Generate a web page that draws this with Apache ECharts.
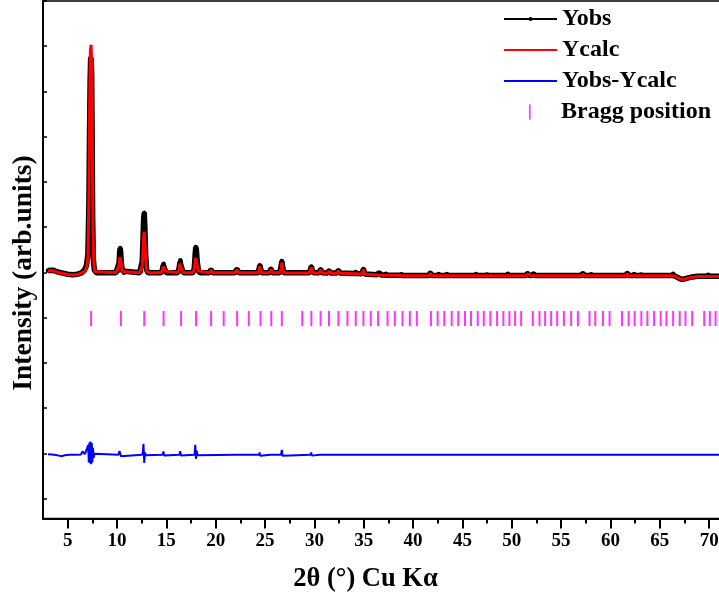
<!DOCTYPE html>
<html>
<head>
<meta charset="utf-8">
<script src="https://cdn.jsdelivr.net/npm/echarts@6/dist/echarts.min.js"></script>
<style>html,body{margin:0;padding:0;background:#fff}#c{width:719px;height:598px}</style>
</head>
<body>
<div id="c"></div>
<script>
// ---- data ----
const xMajorTicks = [5,10,15,20,25,30,35,40,45,50,55,60,65,70];
const xMinorTicks = [7.5,12.5,17.5,22.5,27.5,32.5,37.5,42.5,47.5,52.5,57.5,62.5,67.5];
const yTicks = [0,1000,2000,3000,4000,5000,6000,7000,8000,9000,10000,11000];

const yobs = [
[3.0,5040],[3.5,5050],[4.0,5010],[4.5,4985],[5.0,4960],[5.5,4950],[6.0,4960],[6.4,4990],[6.7,5050],[6.9,5150],
[7.05,5400],[7.15,6500],[7.22,8200],[7.28,9300],[7.33,9750],[7.38,9700],[7.43,9400],[7.48,8000],[7.53,6200],[7.6,5300],[7.7,5050],[7.9,4995],
[9.9,4995],[10.1,5030],[10.2,5200],[10.27,5450],[10.32,5540],[10.37,5450],[10.44,5200],[10.55,5030],[10.7,4995],
[12.3,4995],[12.45,5030],[12.56,5250],[12.64,5800],[12.7,6200],[12.76,6320],[12.82,6000],[12.9,5400],[13.0,5060],[13.15,4995],
[14.45,4995],[14.6,5060],[14.68,5160],[14.72,5190],[14.78,5150],[14.88,5050],[15.0,4995],
[16.15,4995],[16.3,5100],[16.37,5230],[16.42,5270],[16.48,5220],[16.6,5070],[16.75,4995],
[17.7,4995],[17.83,5100],[17.92,5400],[17.98,5560],[18.04,5500],[18.12,5250],[18.25,5040],[18.4,4995],
[19.35,4995],[19.53,5060],[19.7,4995],
[21.95,4995],[22.15,5070],[22.35,4995],
[24.3,4995],[24.4,5080],[24.47,5160],[24.55,5080],[24.65,4995],
[25.45,4995],[25.6,5080],[25.75,4995],
[26.5,4995],[26.6,5100],[26.7,5250],[26.8,5100],[26.9,4995],
[29.5,4992],[29.6,5070],[29.69,5130],[29.78,5060],[29.9,4992],
[30.48,4990],[30.63,5070],[30.78,4990],
[31.33,4988],[31.48,5040],[31.63,4988],
[32.28,4985],[32.43,5050],[32.58,4985],
[34.05,4978],[34.19,5010],[34.33,4975],
[34.82,4970],[34.97,5075],[35.12,4965],
[36.35,4950],[36.55,4995],[36.75,4945],
[37.1,4942],[37.24,4968],[37.38,4940],
[38.68,4935],[38.83,4960],[38.98,4932],
[41.6,4930],[41.74,4990],[41.88,4930],
[42.45,4930],[42.6,4965],[42.75,4930],
[43.28,4930],[43.43,4965],[43.58,4930],
[46.22,4930],[46.37,4965],[46.52,4930],
[47.35,4930],[47.5,4955],[47.65,4930],
[49.45,4930],[49.6,4970],[49.75,4930],
[51.45,4930],[51.6,4980],[51.75,4935],
[52.05,4930],[52.2,4975],[52.35,4930],
[57.05,4930],[57.2,4980],[57.35,4930],
[57.9,4930],[58.05,4960],[58.2,4930],
[61.55,4930],[61.7,4985],[61.85,4930],
[62.25,4930],[62.4,4965],[62.55,4930],
[62.95,4930],[63.1,4955],[63.25,4930],
[66.2,4930],[66.35,4970],[66.5,4925],
[66.8,4890],[67.1,4855],[67.4,4850],[67.8,4875],[68.3,4900],[68.8,4915],
[69.75,4915],[69.9,4950],[70.05,4915],[71.2,4915]
];

const ycalc = [
[3.0,5030],[3.5,5040],[4.0,5000],[4.5,4978],[5.0,4955],[5.5,4945],[6.0,4955],[6.4,4985],[6.7,5020],[6.9,5100],
[7.05,5300],[7.15,6600],[7.22,8600],[7.3,9900],[7.37,10030],[7.44,9600],[7.5,7800],[7.56,6000],[7.65,5200],[7.75,5020],[7.9,4990],
[9.9,4990],[10.1,5020],[10.2,5150],[10.27,5290],[10.32,5340],[10.37,5290],[10.44,5150],[10.55,5020],[10.7,4990],
[12.3,4990],[12.45,5020],[12.56,5150],[12.64,5550],[12.7,5820],[12.76,5900],[12.82,5700],[12.9,5300],[13.0,5040],[13.15,4990],
[14.45,4990],[14.6,5040],[14.68,5130],[14.72,5150],[14.78,5120],[14.88,5030],[15.0,4990],
[16.15,4990],[16.3,5080],[16.37,5190],[16.42,5220],[16.48,5180],[16.6,5050],[16.75,4990],
[17.7,4990],[17.83,5080],[17.92,5260],[17.98,5320],[18.04,5290],[18.12,5150],[18.25,5030],[18.4,4990],
[19.35,4990],[19.53,5050],[19.7,4990],
[21.95,4990],[22.15,5060],[22.35,4990],
[24.3,4990],[24.4,5070],[24.47,5140],[24.55,5070],[24.65,4990],
[25.45,4990],[25.6,5070],[25.75,4990],
[26.5,4990],[26.6,5080],[26.7,5220],[26.8,5080],[26.9,4990],
[29.5,4987],[29.6,5060],[29.69,5110],[29.78,5050],[29.9,4987],
[30.48,4985],[30.63,5060],[30.78,4985],
[31.33,4983],[31.48,5030],[31.63,4983],
[32.28,4980],[32.43,5040],[32.58,4980],
[34.05,4973],[34.19,5000],[34.33,4970],
[34.82,4965],[34.97,5060],[35.12,4960],
[36.35,4945],[36.55,4985],[36.75,4940],
[37.1,4937],[37.24,4960],[37.38,4935],
[38.68,4930],[38.83,4955],[38.98,4927],
[41.6,4925],[41.74,4980],[41.88,4925],
[42.45,4925],[42.6,4960],[42.75,4925],
[43.28,4925],[43.43,4960],[43.58,4925],
[46.22,4925],[46.37,4960],[46.52,4925],
[47.35,4925],[47.5,4950],[47.65,4925],
[49.45,4925],[49.6,4965],[49.75,4925],
[51.45,4925],[51.6,4970],[51.75,4930],
[52.05,4925],[52.2,4965],[52.35,4925],
[57.05,4925],[57.2,4970],[57.35,4925],
[57.9,4925],[58.05,4955],[58.2,4925],
[61.55,4925],[61.7,4975],[61.85,4925],
[62.25,4925],[62.4,4960],[62.55,4925],
[62.95,4925],[63.1,4950],[63.25,4925],
[66.2,4925],[66.35,4960],[66.5,4920],
[66.8,4885],[67.1,4850],[67.4,4845],[67.8,4870],[68.3,4895],[68.8,4910],
[69.75,4910],[69.9,4945],[70.05,4910],[71.2,4910]
];

const ydiff = [
[3.0,980],[3.4,975],[3.8,965],[4.1,950],[4.4,935],[4.7,960],[5.2,970],[6.0,972],[6.35,975],[6.5,1040],
[6.62,1030],[6.75,985],[6.95,1000],[7.08,1180],[7.14,800],[7.2,1240],[7.26,780],[7.32,1260],[7.38,760],[7.44,1230],
[7.5,800],[7.56,1120],[7.64,900],[7.72,990],[7.9,970],
[10.15,970],[10.25,1050],[10.32,1000],[10.4,935],[10.5,970],
[12.55,970],[12.62,1030],[12.68,1210],[12.76,790],[12.84,1020],[12.92,960],[13.0,970],
[14.62,970],[14.7,1040],[14.78,950],[14.86,970],
[16.32,970],[16.4,1050],[16.48,950],[16.56,970],
[17.85,970],[17.93,1190],[18.0,880],[18.08,1060],[18.16,960],[18.24,970],
[22.08,970],[22.15,995],[22.22,955],[22.3,970],
[24.38,970],[24.45,1020],[24.52,945],[24.6,970],
[25.55,970],[25.62,995],[25.7,960],[25.77,970],
[26.62,970],[26.7,1075],[26.78,945],[26.86,970],
[29.6,970],[29.67,1020],[29.74,950],[29.82,970],
[30.56,970],[30.63,1000],[30.7,960],[30.77,970],
[31.42,970],[31.48,995],[31.55,960],[31.6,970],
[32.36,970],[32.43,995],[32.5,960],[32.56,970],
[34.9,970],[34.97,1005],[35.04,955],[35.12,970],
[36.48,970],[36.55,990],[36.62,960],[36.7,970],
[41.67,970],[41.74,985],[41.81,960],[41.88,970],
[49.53,970],[49.6,985],[49.67,960],[49.74,970],
[51.72,970],[51.8,1010],[51.88,950],[51.96,970],
[57.13,970],[57.2,990],[57.27,960],[57.34,970],
[61.63,970],[61.7,985],[61.77,960],[61.84,970],
[66.28,970],[66.35,985],[66.42,960],[66.5,970],[71.2,972]
];

const braggPos = [
7.375,10.39,12.76,14.72,16.49,18.01,19.53,20.81,22.17,23.35,24.54,25.63,26.70,28.77,29.69,30.63,31.48,32.43,33.35,34.19,
34.97,35.71,36.45,37.41,38.15,38.93,39.67,40.38,41.81,42.49,43.16,43.91,44.58,45.26,45.87,46.55,47.16,47.83,48.51,49.15,
49.76,50.34,50.95,52.13,52.81,53.38,53.99,54.6,55.28,56.02,56.70,57.88,58.46,59.24,59.91,61.17,61.84,62.45,63.13,63.74,
64.42,65.09,65.67,66.35,67.02,67.60,68.28,69.50,70.07,70.65,71.09
];
const braggLevel = 3980;

// ---- chart ----
const FONT = '"Liberation Serif","Times New Roman",serif';
const chart = echarts.init(document.getElementById('c'), null, {renderer:'canvas'});
chart.setOption({
  animation: false,
  backgroundColor: '#fff',
  grid: {left: 43, right: -2, top: 1, bottom: 79.5, show: true, borderColor: '#000', borderWidth: 1.5, outerBoundsMode: 'none'},
  legend: [
    {orient: 'vertical', left: 498, top: 2, itemWidth: 53, itemHeight: 5, itemGap: 7,
     textStyle: {fontFamily: FONT, fontWeight: 'bold', fontSize: 24, color: '#000'},
     data: [{name: 'Yobs', lineStyle: {width: 2}},
            {name: 'Ycalc', icon: 'path://M0,0h53v2h-53z'},
            {name: 'Yobs-Ycalc', icon: 'path://M0,0h53v2h-53z'}]},
    {orient: 'vertical', left: 498, top: 95, itemWidth: 53, itemHeight: 15,
     textStyle: {fontFamily: FONT, fontWeight: 'bold', fontSize: 24, color: '#000'},
     data: [{name: 'Bragg position', icon: 'path://M0,0h0.01v15h-0.01z M26,0h1.6v15h-1.6z M52.99,0h0.01v15h-0.01z'}]}
  ],
  xAxis: [
    {type: 'value', min: 2.5, max: 71.2, position: 'bottom',
     axisLine: {show: true, onZero: false, lineStyle: {color: '#000', width: 2}},
     axisTick: {show: true, customValues: xMajorTicks, length: 10, lineStyle: {color: '#000', width: 2}},
     axisLabel: {show: true, customValues: xMajorTicks, margin: 13, fontFamily: FONT, fontWeight: 'bold', fontSize: 19, color: '#000'},
     splitLine: {show: false}},
    {type: 'value', min: 2.5, max: 71.2, position: 'bottom', offset: 0,
     axisLine: {show: false, onZero: false},
     axisTick: {show: true, customValues: xMinorTicks, length: 5, lineStyle: {color: '#000', width: 2}},
     axisLabel: {show: false}, splitLine: {show: false}}
  ],
  yAxis: {type: 'value', min: -440, max: 11000,
    axisLine: {show: true, onZero: false, lineStyle: {color: '#000', width: 2}},
    axisTick: {show: true, inside: true, customValues: yTicks, length: 4, lineStyle: {color: '#000', width: 1.5}},
    axisLabel: {show: false}, splitLine: {show: false}},
  graphic: [
    {type: 'text', x: 365.5, y: 579, style: {text: '2θ (°) Cu Kα', font: 'bold 26.5px ' + FONT, fill: '#000', textAlign: 'center', textVerticalAlign: 'middle'}},
    {type: 'text', x: 24, y: 273, rotation: Math.PI / 2, style: {text: 'Intensity (arb.units)', font: 'bold 27.5px ' + FONT, fill: '#000', textAlign: 'center', textVerticalAlign: 'middle'}}
  ],
  series: [
    {name: 'Yobs', type: 'line', data: yobs, color: '#000', symbol: 'circle', symbolSize: 4.5, showSymbol: true,
     lineStyle: {color: '#000', width: 5.5}, itemStyle: {color: '#000'}, z: 2},
    {name: 'Ycalc', type: 'line', data: ycalc, color: '#ff0000', symbol: 'none', lineStyle: {color: '#ff0000', width: 3}, z: 3},
    {name: 'Yobs-Ycalc', type: 'line', data: ydiff, color: '#0000ff', symbol: 'none', lineStyle: {color: '#0000ff', width: 2}, z: 3},
    {name: 'Bragg position', type: 'scatter', data: braggPos.map(x => [x, braggLevel]), symbol: 'rect', symbolSize: [2, 15],
     color: '#ff00ff', itemStyle: {color: '#ff00ff'}, z: 3}
  ]
});
</script>
</body>
</html>
